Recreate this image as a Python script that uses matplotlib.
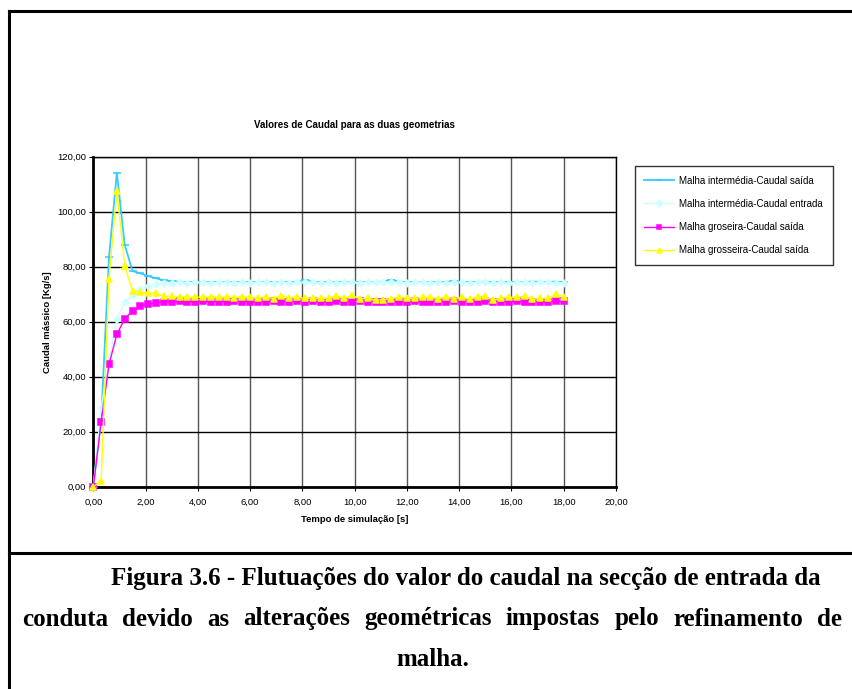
import matplotlib
matplotlib.use("Agg")
import matplotlib.pyplot as plt
from matplotlib.lines import Line2D
from matplotlib.ticker import FuncFormatter

# Tempo de simulação [s] (passo de 0,3 s)
tempo = [0.0, 0.3, 0.6, 0.9, 1.2, 1.5, 1.8, 2.1, 2.4, 2.7,
         3.0, 3.3, 3.6, 3.9, 4.2, 4.5, 4.8, 5.1, 5.4, 5.7,
         6.0, 6.3, 6.6, 6.9, 7.2, 7.5, 7.8, 8.1, 8.4, 8.7,
         9.0, 9.3, 9.6, 9.9, 10.2, 10.5, 10.8, 11.1, 11.4, 11.7,
         12.0, 12.3, 12.6, 12.9, 13.2, 13.5, 13.8, 14.1, 14.4, 14.7,
         15.0, 15.3, 15.6, 15.9, 16.2, 16.5, 16.8, 17.1, 17.4, 17.7,
         18.0]

# Malha intermédia - Caudal saída
inter_saida = [0.0, 24.5, 83.4, 114.2, 88.0, 78.4, 77.6, 76.6, 75.8, 75.0,
               74.8, 74.5, 74.4, 74.5, 74.4, 74.4, 74.5, 74.4, 74.4, 74.5,
               74.3, 74.4, 74.5, 74.4, 74.5, 74.4, 74.5, 75.0, 74.5, 74.4,
               74.4, 74.5, 74.4, 74.5, 74.4, 74.5, 74.4, 74.6, 75.3, 74.6,
               74.4, 74.5, 74.4, 74.5, 74.4, 74.5, 74.8, 74.4, 74.5, 74.4,
               74.6, 74.4, 74.5, 74.4, 74.5, 74.4, 74.6, 74.5, 74.4, 74.6,
               74.3]

# Malha intermédia - Caudal entrada
inter_entrada = [0.0, 28.8, 46.0, 61.0, 67.2, 69.8, 71.9, 73.0, 73.6, 74.0,
                 74.2, 74.3, 74.2, 74.3, 74.3, 74.2, 74.3, 74.3, 74.2, 74.3,
                 74.2, 74.3, 74.3, 74.2, 74.3, 74.2, 74.3, 74.4, 74.3, 74.2,
                 74.3, 74.2, 74.3, 74.3, 74.2, 74.3, 74.3, 74.3, 74.4, 74.3,
                 74.2, 74.3, 74.3, 74.2, 74.3, 74.2, 74.3, 74.3, 74.2, 74.3,
                 74.3, 74.2, 74.3, 74.2, 74.3, 74.3, 74.2, 74.3, 74.3, 74.2,
                 74.2]

# Malha groseira - Caudal saída
gros_saida = [0.0, 23.6, 44.5, 55.4, 61.0, 64.0, 65.6, 66.4, 66.9, 67.2,
              67.3, 67.4, 67.3, 67.2, 67.4, 67.3, 67.3, 67.2, 67.4, 67.3,
              67.3, 67.2, 67.3, 67.4, 67.3, 67.2, 67.6, 67.3, 67.5, 67.2,
              67.3, 67.4, 67.2, 67.3, 67.6, 67.3, 67.2, 67.3, 67.3, 67.2,
              67.3, 67.4, 67.2, 67.3, 67.3, 67.2, 67.4, 67.3, 67.2, 67.3,
              67.4, 67.3, 67.2, 67.3, 67.4, 67.3, 67.2, 67.3, 67.3, 67.6,
              67.4]

# Malha grosseira - Caudal saída
gross_saida = [0.0, 2.1, 75.5, 107.5, 80.3, 71.2, 70.8, 70.3, 70.3, 69.2,
               69.2, 69.0, 68.9, 69.0, 68.8, 69.1, 68.8, 69.0, 68.7, 69.1,
               68.8, 68.6, 69.0, 68.4, 69.5, 68.6, 68.9, 68.5, 68.6, 68.5,
               68.6, 69.4, 68.5, 69.6, 68.3, 68.5, 67.8, 68.0, 68.4, 68.9,
               68.6, 68.5, 68.8, 68.9, 68.4, 69.0, 68.4, 68.8, 68.2, 69.1,
               69.2, 67.8, 68.6, 68.9, 68.9, 69.2, 68.1, 68.5, 68.5, 70.0,
               69.0]

series = [
    (inter_saida, "Malha intermédia-Caudal saída", "#33CCFF", "_", 6, 1.3),
    (inter_entrada, "Malha intermédia-Caudal entrada", "#CCFFFF", "D", 3.2, 1.0),
    (gros_saida, "Malha groseira-Caudal saída", "#FF00FF", "s", 3.8, 1.0),
    (gross_saida, "Malha grosseira-Caudal saída", "#FFFF00", "^", 4.3, 1.0),
]

plt.rcParams['font.family'] = ['Liberation Sans', 'DejaVu Sans']

fig = plt.figure(figsize=(8.53, 6.89), dpi=100)
ax = fig.add_axes([0.1094, 0.2936, 0.6128, 0.479])

for vals, name, col, mk, ms, lw in series:
    ax.plot(tempo, vals, color=col, marker=mk, markersize=ms, linewidth=lw,
            markeredgecolor=col, markerfacecolor=col, markeredgewidth=1.1,
            label=name, clip_on=False, zorder=3)

ax.set_xlim(0, 20)
ax.set_ylim(0, 120)
ax.set_xticks(range(0, 21, 2))
ax.set_yticks(range(0, 121, 20))
fmt = FuncFormatter(lambda v, p: ("%.2f" % v).replace(".", ","))
ax.xaxis.set_major_formatter(fmt)
ax.yaxis.set_major_formatter(fmt)
ax.tick_params(labelsize=6.8, length=3, width=0.8, colors="black")
ax.tick_params(axis="x", pad=5)
ax.tick_params(axis="y", pad=2)
ax.xaxis.grid(True, color="#555555", linewidth=1.0)
ax.yaxis.grid(True, color="black", linewidth=1.0)
ax.set_axisbelow(True)
for side in ["left", "bottom"]:
    ax.spines[side].set_linewidth(2)
for side in ["top", "right"]:
    ax.spines[side].set_linewidth(1)

ax.set_title("Valores de Caudal para as duas geometrias", fontsize=7,
             fontweight="bold", pad=21)
ax.set_xlabel("Tempo de simulação [s]", fontsize=6.8, fontweight="bold", labelpad=6)
ax.set_ylabel("Caudal mássico [Kg/s]", fontsize=6.8, fontweight="bold", labelpad=4)

leg = fig.legend(loc="upper left", bbox_to_anchor=(0.744, 0.759), fontsize=7.0,
                 frameon=True, fancybox=False, edgecolor="black",
                 handlelength=3.0, labelspacing=1.35, borderpad=1.0,
                 handletextpad=0.6, borderaxespad=0)
leg.get_frame().set_linewidth(1.0)
for h in leg.legend_handles:
    h.set_markersize(3.5)

# moldura da figura
fig.add_artist(Line2D([0.010, 0.010], [0.0, 0.984], color="black", lw=2.2))
fig.add_artist(Line2D([0.010, 1.0], [0.984, 0.984], color="black", lw=2.2))
fig.add_artist(Line2D([0.010, 1.0], [1 - 553 / 689, 1 - 553 / 689], color="black", lw=2.2))

cap = dict(family=["Liberation Serif", "DejaVu Serif"], fontweight="bold",
           fontsize=18, va="center")
renderer = fig.canvas.get_renderer()


def justificar(linha, x0, x1, y):
    # distribui as palavras entre x0 e x1 (em pixels), como texto justificado
    palavras = linha.split(" ")
    textos = [fig.text(0, 1 - y / 689, p, ha="left", **cap) for p in palavras]
    larg = [t.get_window_extent(renderer).width for t in textos]
    esp = (x1 - x0 - sum(larg)) / (len(palavras) - 1)
    x = x0
    for t, w in zip(textos, larg):
        t.set_x(x / 853)
        x += w + esp


fig.text(466 / 853, 1 - 578 / 689,
         "Figura 3.6 - Flutuações do valor do caudal na secção de entrada da",
         ha="center", **cap)
justificar("conduta devido as alterações geométricas impostas pelo refinamento de", 22, 842, 619)
fig.text(433 / 853, 1 - 660 / 689, "malha.", ha="center", **cap)

fig.savefig("out.png", dpi=100)
